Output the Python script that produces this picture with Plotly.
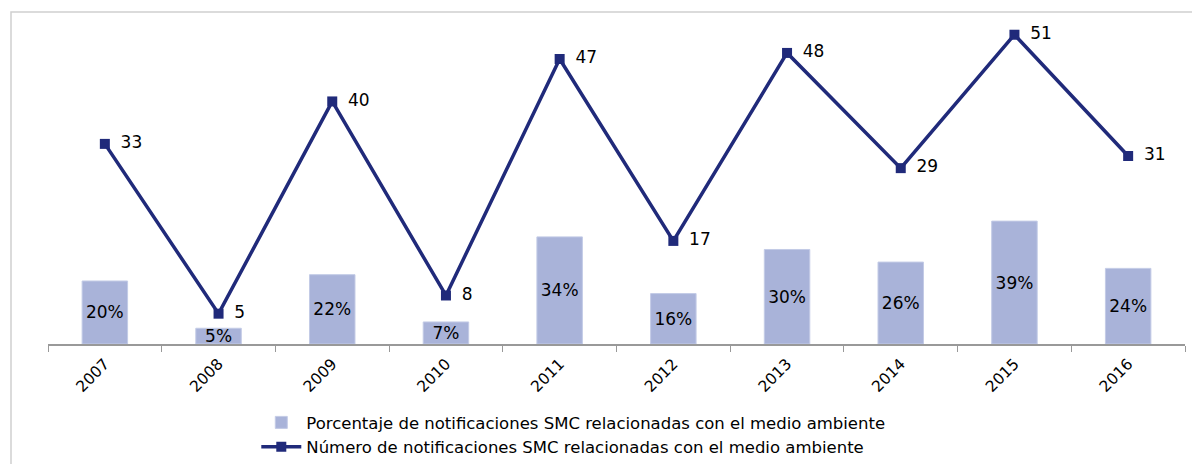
import plotly.graph_objects as go

years = ["2007", "2008", "2009", "2010", "2011", "2012", "2013", "2014", "2015", "2016"]
pct_values = [20, 5, 22, 7, 34, 16, 30, 26, 39, 24]
count_values = [33, 5, 40, 8, 47, 17, 48, 29, 51, 31]
bar_name = "Porcentaje de notificaciones SMC relacionadas con el medio ambiente"
line_name = "Número de notificaciones SMC relacionadas con el medio ambiente"

FONT = "DejaVu Sans"
BAR_COLOR = "#A9B3D9"
LINE_COLOR = "#202A7A"

# page body adds an 8px offset; figure coords below compensate
W, H = 1192, 456
L, R, T, B = 40, 15, 14, 120
PW, PH = W - L - R, H - T - B

fig = go.Figure()
fig.add_trace(go.Bar(
    x=years, y=pct_values, name=bar_name,
    marker=dict(color=BAR_COLOR, line=dict(color="#C3CBE6", width=1)),
    width=0.4,
    text=[f"{v}%" for v in pct_values],
    textposition="inside", insidetextanchor="middle", constraintext="none",
    textfont=dict(family=FONT, size=17, color="#000000"),
    yaxis="y", cliponaxis=False,
))
fig.add_trace(go.Scatter(
    x=years, y=count_values, name=line_name, yaxis="y2",
    mode="lines+markers+text",
    line=dict(color=LINE_COLOR, width=3.5),
    marker=dict(symbol="square", size=10, color=LINE_COLOR),
    text=["\u2002" + str(v) for v in count_values],
    textposition="middle right",
    textfont=dict(family=FONT, size=17, color="#000000"),
    cliponaxis=False,
))

fig.update_layout(
    width=W, height=H,
    margin=dict(l=L, r=R, t=T, b=B, autoexpand=False),
    paper_bgcolor="white", plot_bgcolor="white",
    font=dict(family=FONT, size=15, color="#000000"),
    showlegend=True,
    legend=dict(orientation="v", x=0.462, xanchor="center", y=-0.19, yanchor="top",
                font=dict(family=FONT, size=16.5), tracegroupgap=9, itemwidth=40),
    xaxis=dict(type="category", showgrid=False, showline=True, linecolor="#999999", linewidth=1.5,
               ticks="outside", tickson="boundaries", ticklen=6, tickcolor="#999999",
               tickangle=-45, tickfont=dict(family=FONT, size=15.5), range=[-0.5, 9.5],
               ticklabelstandoff=3, automargin=False),
    yaxis=dict(range=[0, 102.2], visible=False, showgrid=False, zeroline=False, automargin=False),
    yaxis2=dict(range=[0, 53.1], overlaying="y", visible=False, showgrid=False, zeroline=False,
                automargin=False),
    shapes=[dict(type="rect", xref="paper", yref="paper",
                 x0=(3 - L) / PW, x1=(W + 60 - L) / PW,
                 y0=-(H + 60 - T - PH) / PH, y1=(T + PH - 4) / PH,
                 line=dict(color="#D0D0D0", width=1.5), layer="below")],
)

fig.write_html("out.html")
